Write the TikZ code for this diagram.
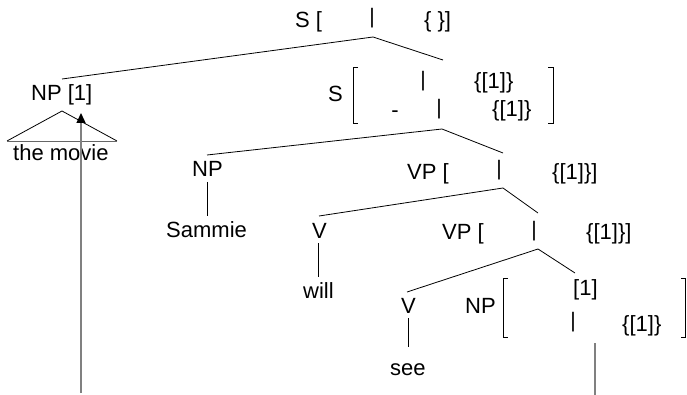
\documentclass[tikz,border=0pt]{standalone}
\usepackage{fontspec}
\setmainfont{Liberation Sans}
\usetikzlibrary{arrows.meta}
\begin{document}
\begin{tikzpicture}[x=1pt,y=-1pt,
  lbl/.style={inner sep=0pt, anchor=base west, font=\fontsize{22}{26}\selectfont},
  mid/.style={inner sep=0pt, anchor=base, font=\fontsize{22}{26}\selectfont},
  bar/.style={inner sep=0pt, anchor=south, font=\fontsize{21}{26}\selectfont},
  branch/.style={draw=black, line width=0.8pt},
  brack/.style={draw=black, line width=0.8pt},
  trace/.style={draw=black!50, line width=1.3pt}]
\useasboundingbox (0,0) rectangle (687,395);

% root S
\node[lbl] (s0) at (295,28) {S [};
\node[bar] (s0bar) at (372,28) {|};
\node[lbl] (s0set) at (424,28) {\{ \}]};
\coordinate (s0foot) at (373,37);

% fronted NP with its triangle
\node[lbl] (np1) at (31,101) {NP [1]};
\coordinate (np1head) at (62,79);
\coordinate (tri-top) at (62,111);
\coordinate (tri-l) at (7,141);
\coordinate (tri-r) at (117,141);
\node[lbl] (movie) at (13,161) {the movie};

% lower S with two-row feature bracket
\node[lbl] (s1) at (328,102) {S};
\node[bar] (s1bar1) at (423,91) {|};
\node[lbl] (s1set1) at (474,89) {\{[1]\}};
\node[mid] (s1dash) at (395,118) {-};
\node[bar] (s1bar2) at (439,119) {|};
\node[lbl] (s1set2) at (492,117) {\{[1]\}};
\coordinate (s1head) at (443,60);
\coordinate (s1foot) at (442,129);

% subject NP
\node[lbl] (np2) at (192,177) {NP};
\node[lbl] (sammie) at (166,237) {Sammie};
\coordinate (np2head) at (207,155);
\coordinate (np2foot) at (207,182);
\coordinate (sammiehead) at (207,216);

% upper VP
\node[lbl] (vp1) at (407,180) {VP [};
\node[bar] (vp1bar) at (499,180) {|};
\node[lbl] (vp1set) at (552,180) {\{[1]\}]};
\coordinate (vp1head) at (503,153);
\coordinate (vp1foot) at (503,188);

% auxiliary
\node[lbl] (v1) at (312,238) {V};
\node[lbl] (will) at (303,298) {will};
\coordinate (v1head) at (319,216);
\coordinate (v1foot) at (318,243);
\coordinate (willhead) at (318,277);

% lower VP
\node[lbl] (vp2) at (442,240) {VP [};
\node[bar] (vp2bar) at (534,241) {|};
\node[lbl] (vp2set) at (586,240) {\{[1]\}]};
\coordinate (vp2head) at (538,213);
\coordinate (vp2foot) at (538,249);

% main verb
\node[lbl] (v2) at (401,313) {V};
\node[lbl] (see) at (390,375) {see};
\coordinate (v2head) at (407,292);
\coordinate (v2foot) at (408,318);
\coordinate (seehead) at (408,347);

% object NP (gap)
\node[lbl] (np3) at (465,313) {NP};
\node[lbl] (np3tag) at (573,295) {[1]};
\node[bar] (np3bar) at (573,332) {|};
\node[lbl] (np3set) at (622,331) {\{[1]\}};
\coordinate (np3head) at (575,273);

% tall feature brackets
\draw[brack] (358,67) -- (353,67) -- (353,123) -- (358,123);
\draw[brack] (548,67) -- (553,67) -- (553,123) -- (548,123);
\draw[brack] (508,278) -- (503,278) -- (503,337) -- (508,337);
\draw[brack] (681,278) -- (685.5,278) -- (685.5,337) -- (681,337);

% tree branches
\draw[branch] (np1head) -- (s0foot) -- (s1head);
\draw[branch] (np2head) -- (s1foot) -- (vp1head);
\draw[branch] (v1head) -- (vp1foot) -- (vp2head);
\draw[branch] (v2head) -- (vp2foot) -- (np3head);
\draw[branch] (np2foot) -- (sammiehead);
\draw[branch] (v1foot) -- (willhead);
\draw[branch] (v2foot) -- (seehead);
\draw[branch] (tri-l) -- (tri-top) -- (tri-r);
\draw[draw=black!60, line width=0.8pt] (tri-l) -- (tri-r);

% filler-gap path
\coordinate (gapfoot) at (81,393);
\coordinate (fillertip) at (81,113);
\coordinate (gaptop) at (595,343);
\coordinate (gapbottom) at (595,395);
\draw[trace, -{Triangle[length=10pt,width=9pt,fill=black,color=black]}] (gapfoot) -- (fillertip);
\draw[trace] (gaptop) -- (gapbottom);
\end{tikzpicture}
\end{document}
